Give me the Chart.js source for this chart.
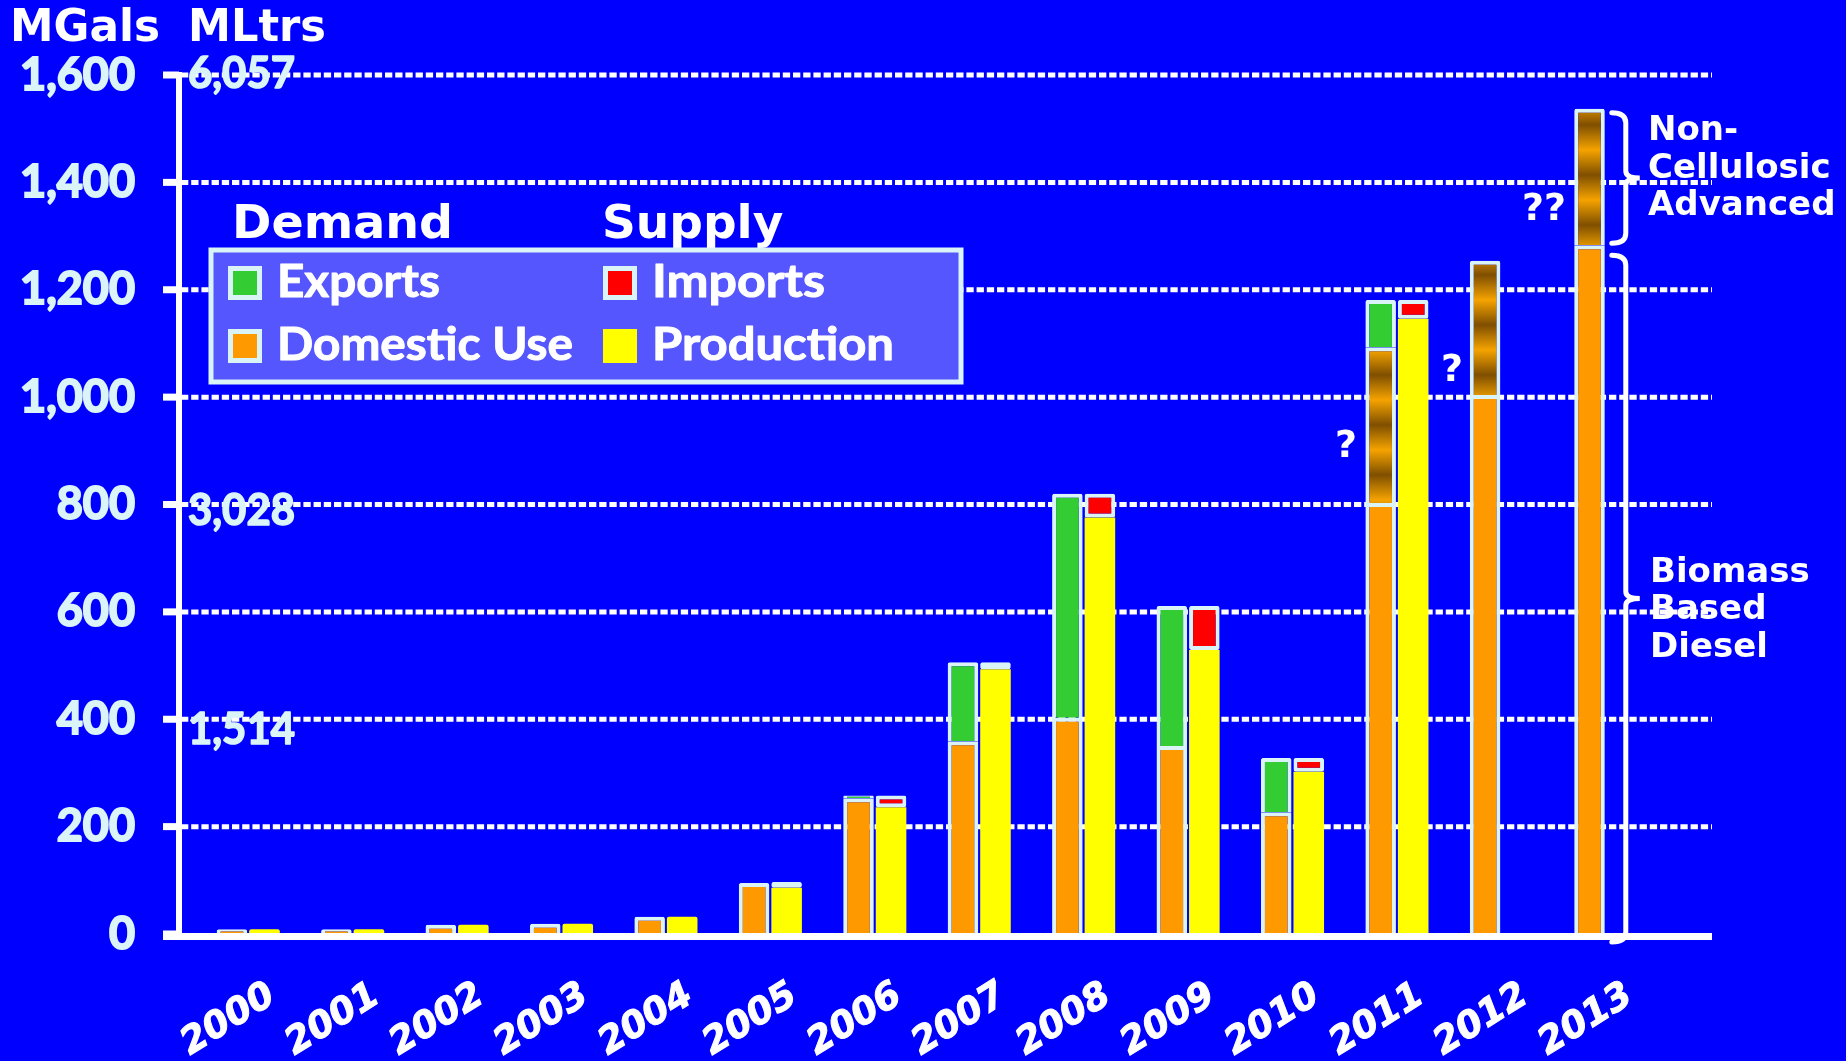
<!DOCTYPE html>
<html>
<head>
<meta charset="utf-8">
<title>Biodiesel supply and demand</title>
<script src="https://cdn.jsdelivr.net/npm/chart.js@4.4.1/dist/chart.umd.min.js"></script>
<style>
    html, body { margin: 0; padding: 0; background: #0000ff; }
    #wrap { position: relative; width: 1846px; height: 1061px; }
</style>
</head>
<body>
<div id="wrap"><canvas id="biodieselChart"></canvas></div>
<script>
// values in million gallons
const years = ['2000', '2001', '2002', '2003', '2004', '2005', '2006', '2007', '2008', '2009', '2010', '2011', '2012', '2013'];
const domesticUse = [9, 9, 17, 19, 32, 95, 253, 359, 403, 350, 227, 803, 1004, 1283];
const nonCellulosic = [null, null, null, null, null, null, null, null, null, null, null, 290, 250, 254];
const exportsUS = [0, 0, 0, 0, 0, 0, 5, 147, 417, 261, 101, 88, null, null];
const production = [9, 9, 17, 19, 32, 86, 236, 493, 776, 529, 302, 1146, null, null];
const importsUS = [null, null, null, null, null, 11, 22, 13, 44, 82, 26, 35, null, null];

// second unit shown inside the plot (million litres)
const literTickValues = [1600, 800, 400];
const literTickLabels = ['6,057', '3,028', '1,514'];

const EDGE = '#daf3f7';
const ORANGE = '#ff9900';
const GREEN = '#33cc33';
const YELLOW = '#ffff00';
const RED = '#ff0000';
const TICK = '#daf4f8';

function brownBands() {
    let c = document.createElement('canvas');
    c.width = 8;
    c.height = 50;
    let g = c.getContext('2d');
    let grad = g.createLinearGradient(0, 0, 0, 50);
    grad.addColorStop(0, '#f5a300');
    grad.addColorStop(0.5, '#7f4f00');
    grad.addColorStop(1, '#f5a300');
    g.fillStyle = grad;
    g.fillRect(0, 0, 8, 50);
    return document.getElementById('biodieselChart').getContext('2d').createPattern(c, 'repeat');
}

function fitText(ctx, text, x, y, font, width, color, stroke) {
    ctx.save();
    ctx.font = font;
    ctx.fillStyle = color;
    ctx.textAlign = 'left';
    ctx.textBaseline = 'alphabetic';
    let w = ctx.measureText(text).width;
    ctx.translate(x, y);
    if (width) ctx.scale(width / w, 1);
    ctx.fillText(text, 0, 0);
    if (stroke) {
        ctx.strokeStyle = color;
        ctx.lineWidth = stroke;
        ctx.lineJoin = 'round';
        ctx.strokeText(text, 0, 0);
    }
    ctx.restore();
}

function bracket(ctx, x, top, bottom) {
    let mid = (top + bottom) / 2;
    ctx.beginPath();
    ctx.moveTo(x - 14, top);
    ctx.quadraticCurveTo(x, top, x, top + 10);
    ctx.lineTo(x, mid - 7);
    ctx.quadraticCurveTo(x, mid, x + 14, mid);
    ctx.quadraticCurveTo(x, mid, x, mid + 7);
    ctx.lineTo(x, bottom - 10);
    ctx.quadraticCurveTo(x, bottom, x - 14, bottom);
    ctx.stroke();
}

const gridPlugin = {
    id: 'slideGrid',
    beforeDatasetsDraw(chart) {
        const ctx = chart.ctx;
        const y = chart.scales.y;
        ctx.save();
        ctx.strokeStyle = '#ffffff';
        ctx.lineWidth = 5;
        ctx.setLineDash([7.3, 2.9]);
        y.ticks.forEach(t => {
            if (t.value === 0) return;
            let py = y.getPixelForValue(t.value);
            ctx.beginPath();
            ctx.moveTo(181, py);
            ctx.lineTo(1712, py);
            ctx.stroke();
        });
        ctx.restore();
    },
    afterDatasetsDraw(chart) {
        const ctx = chart.ctx;
        const x = chart.scales.x;
        const y = chart.scales.y;
        const zero = y.getPixelForValue(0);
        const top = y.getPixelForValue(1600);
        ctx.save();

        // axes and the little ticks on the left
        ctx.fillStyle = '#ffffff';
        ctx.fillRect(176, top - 3, 6, zero - top + 3);
        ctx.fillRect(163, zero - 1, 1712 - 163, 7);
        y.ticks.forEach(t => {
            ctx.fillRect(163, y.getPixelForValue(t.value) - 3.5, 16, 7);
        });

        // second unit labels
        const nudge = [13, 20, 25];
        literTickValues.forEach((v, i) => {
            fitText(ctx, literTickLabels[i], 188, y.getPixelForValue(v) + nudge[i], 'bold 43px Lato', 107, TICK, 1.5);
        });

        // brackets on the right
        const last = years.length - 1;
        const bx = x.getPixelForValue(last) + 20;
        ctx.strokeStyle = '#ffffff';
        ctx.lineWidth = 5;
        ctx.lineCap = 'round';
        bracket(ctx, bx, y.getPixelForValue(domesticUse[last] + nonCellulosic[last]) + 4, y.getPixelForValue(domesticUse[last]) - 2);
        bracket(ctx, bx, y.getPixelForValue(domesticUse[last]) + 10, zero + 8);

        const side = 'bold 34px "DejaVu Sans"';
        fitText(ctx, 'Non-', 1648, 140, side, 0, '#ffffff');
        fitText(ctx, 'Cellulosic', 1648, 178, side, 0, '#ffffff');
        fitText(ctx, 'Advanced', 1648, 215, side, 0, '#ffffff');
        fitText(ctx, 'Biomass', 1650, 582, side, 0, '#ffffff');
        fitText(ctx, 'Based', 1650, 619, side, 0, '#ffffff');
        fitText(ctx, 'Diesel', 1650, 657, side, 0, '#ffffff');

        const q = 'bold 38px "DejaVu Sans"';
        fitText(ctx, '?', 1335, 457, q, 0, '#ffffff');
        fitText(ctx, '?', 1441, 381, q, 0, '#ffffff');
        fitText(ctx, '??', 1522, 220, q, 0, '#ffffff');

        // units
        fitText(ctx, 'MGals', 10, 41, 'bold 44px "DejaVu Sans"', 150, '#ffffff');
        fitText(ctx, 'MLtrs', 188, 41, 'bold 44px "DejaVu Sans"', 138, '#ffffff');

        // legend
        fitText(ctx, 'Demand', 232, 238, 'bold 47px "DejaVu Sans"', 221, '#ffffff');
        fitText(ctx, 'Supply', 602, 238, 'bold 47px "DejaVu Sans"', 0, '#ffffff');
        ctx.fillStyle = '#5656ff';
        ctx.fillRect(211, 250, 750, 132);
        ctx.strokeStyle = EDGE;
        ctx.lineWidth = 5;
        ctx.lineCap = 'butt';
        ctx.strokeRect(211, 250, 750, 132);

        const items = [
            { text: 'Exports', color: GREEN, edge: true, sx: 228, sy: 266, w: 163 },
            { text: 'Imports', color: RED, edge: true, sx: 603, sy: 266, w: 173 },
            { text: 'Domestic Use', color: ORANGE, edge: true, sx: 228, sy: 329, w: 296 },
            { text: 'Production', color: YELLOW, edge: false, sx: 603, sy: 329, w: 242 }
        ];
        items.forEach(it => {
            if (it.edge) {
                ctx.fillStyle = EDGE;
                ctx.fillRect(it.sx, it.sy, 34, 34);
                ctx.fillStyle = it.color;
                ctx.fillRect(it.sx + 5, it.sy + 5, 24, 24);
            } else {
                ctx.fillStyle = it.color;
                ctx.fillRect(it.sx, it.sy, 34, 34);
            }
            fitText(ctx, it.text, it.sx + 49, it.sy + 31, 'bold 46px Lato', it.w, '#ffffff', 1);
        });

        ctx.restore();
    }
};

document.addEventListener("DOMContentLoaded", function () {
    const ctx = document.getElementById('biodieselChart').getContext('2d');
    const brown = brownBands();

    new Chart(ctx, {
        type: 'bar',
        data: {
            labels: years,
            datasets: [{
                label: 'Domestic Use',
                data: domesticUse,
                stack: 'demand',
                backgroundColor: ORANGE,
                borderColor: EDGE,
                borderWidth: 4
            },
            {
                label: 'Non-Cellulosic Advanced',
                data: nonCellulosic,
                stack: 'demand',
                backgroundColor: brown,
                borderColor: EDGE,
                borderWidth: 4
            },
            {
                label: 'Exports',
                data: exportsUS,
                stack: 'demand',
                backgroundColor: GREEN,
                borderColor: EDGE,
                borderWidth: 4
            },
            {
                label: 'Production',
                data: production,
                stack: 'supply',
                backgroundColor: YELLOW,
                borderWidth: 0
            },
            {
                label: 'Imports',
                data: importsUS,
                stack: 'supply',
                backgroundColor: RED,
                borderColor: EDGE,
                borderWidth: 4,
                borderSkipped: false
            }]
        },
        plugins: [gridPlugin],
        options: {
            responsive: true,
            maintainAspectRatio: false,
            animation: false,
            layout: {
                padding: { top: 75, right: 188, bottom: 0, left: 0 }
            },
            datasets: {
                bar: {
                    categoryPercentage: 0.623,
                    barPercentage: 0.94,
                    borderRadius: 2
                }
            },
            plugins: {
                legend: { display: false },
                tooltip: { enabled: false }
            },
            scales: {
                x: {
                    stacked: true,
                    afterFit: function (s) { s.height = 127; },
                    grid: { display: false },
                    border: { display: false },
                    ticks: {
                        color: '#ffffff',
                        textStrokeColor: '#ffffff',
                        textStrokeWidth: 1,
                        autoSkip: false,
                        minRotation: 32,
                        maxRotation: 32,
                        padding: 32,
                        labelOffset: 24,
                        font: { family: 'DejaVu Sans', weight: 'bold', style: 'italic', size: 37 }
                    }
                },
                y: {
                    stacked: true,
                    min: 0,
                    max: 1600,
                    afterFit: function (s) {
                        s.width = 196;
                        s.paddingTop = 0;
                        s.paddingBottom = 0;
                    },
                    grid: { display: false, drawTicks: false },
                    border: { display: false },
                    ticks: {
                        stepSize: 200,
                        padding: 61,
                        color: TICK,
                        textStrokeColor: TICK,
                        textStrokeWidth: 2,
                        font: { family: 'Lato', weight: 'bold', size: 45 },
                        callback: function (value) {
                            return value.toLocaleString('en-US');
                        }
                    }
                }
            }
        }
    });
});
</script>
</body>
</html>
